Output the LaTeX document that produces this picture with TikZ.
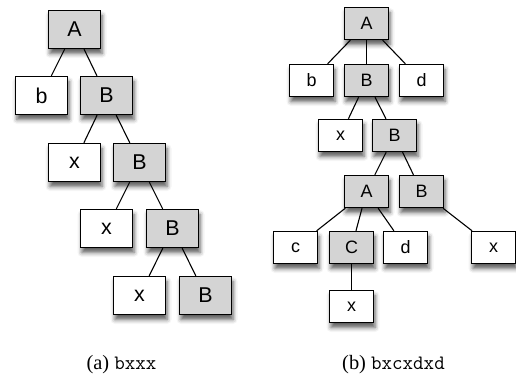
\documentclass[tikz,border=0pt]{standalone}
\usepackage{fontspec}
\setmainfont{Liberation Serif}
\setsansfont{Liberation Sans}
\usetikzlibrary{shadows.blur}
\definecolor{boxgray}{HTML}{D4D4D4}
\tikzset{
  base/.style={draw=black, line width=1.4bp, inner sep=0pt, font=\sffamily,
    blur shadow={shadow xshift=1.5bp, shadow yshift=-5bp, shadow blur radius=4.5bp, shadow opacity=65}},
  bigbox/.style={base, minimum width=52bp, minimum height=38bp, font=\sffamily\fontsize{21.5}{23}\selectfont},
  smallbox/.style={base, minimum width=44bp, minimum height=32bp, font=\sffamily\fontsize{18}{20}\selectfont},
  gray/.style={fill=boxgray},
  white/.style={fill=white},
  edge/.style={draw=black, line width=1.1bp},
  caption/.style={font=\fontsize{20.5}{22}\selectfont, inner sep=0pt}
}
\begin{document}
\begin{tikzpicture}[x=1bp, y=-1bp]
\useasboundingbox (0,0) rectangle (516,377);
% left tree
\node[bigbox, gray] (LA) at (74.5,29.5) {A};
\node[bigbox, white] (Lb) at (41.5,95.5) {b};
\node[bigbox, gray] (LB1) at (106.5,95.5) {B};
\node[bigbox, white] (Lx1) at (74.5,162.5) {x};
\node[bigbox, gray] (LB2) at (139.5,162.5) {B};
\node[bigbox, white] (Lx2) at (106.5,228.5) {x};
\node[bigbox, gray] (LB3) at (172.5,228.5) {B};
\node[bigbox, white] (Lx3) at (139.5,295.5) {x};
\node[bigbox, gray] (LB4) at (205.5,295.5) {B};
\draw[edge] (LA) -- (Lb);
\draw[edge] (LA) -- (LB1);
\draw[edge] (LB1) -- (Lx1);
\draw[edge] (LB1) -- (LB2);
\draw[edge] (LB2) -- (Lx2);
\draw[edge] (LB2) -- (LB3);
\draw[edge] (LB3) -- (Lx3);
\draw[edge] (LB3) -- (LB4);
% right tree
\node[smallbox, gray] (RA) at (366.5,23.5) {A};
\node[smallbox, white] (Rb) at (311.5,80.5) {b};
\node[smallbox, gray] (RB1) at (366.5,80.5) {B};
\node[smallbox, white] (Rd1) at (421.5,80.5) {d};
\node[smallbox, white] (Rx1) at (340.5,135.5) {x};
\node[smallbox, gray] (RB2) at (394.5,135.5) {B};
\node[smallbox, gray] (RA2) at (366.5,191.5) {A};
\node[smallbox, gray] (RB3) at (421.5,191.5) {B};
\node[smallbox, white] (Rc) at (295.5,247.5) {c};
\node[smallbox, gray] (RC) at (351.5,247.5) {C};
\node[smallbox, white] (Rd2) at (405.5,247.5) {d};
\node[smallbox, white] (Rx2) at (493.5,247.5) {x};
\node[smallbox, white] (Rx3) at (351.5,306.5) {x};
\draw[edge] (RA) -- (Rb);
\draw[edge] (RA) -- (RB1);
\draw[edge] (RA) -- (Rd1);
\draw[edge] (RB1) -- (Rx1);
\draw[edge] (RB1) -- (RB2);
\draw[edge] (RB2) -- (RA2);
\draw[edge] (RB2) -- (RB3);
\draw[edge] (RA2) -- (Rc);
\draw[edge] (RA2) -- (RC);
\draw[edge] (RA2) -- (Rd2);
\draw[edge] (RB3) -- (Rx2);
\draw[edge] (RC) -- (Rx3);
% captions
\node[caption] (capa) at (121.5,365) {(a) \texttt{bxxx}};
\node[caption] (capb) at (393.5,365) {(b) \texttt{bxcxdxd}};
\end{tikzpicture}
\end{document}
